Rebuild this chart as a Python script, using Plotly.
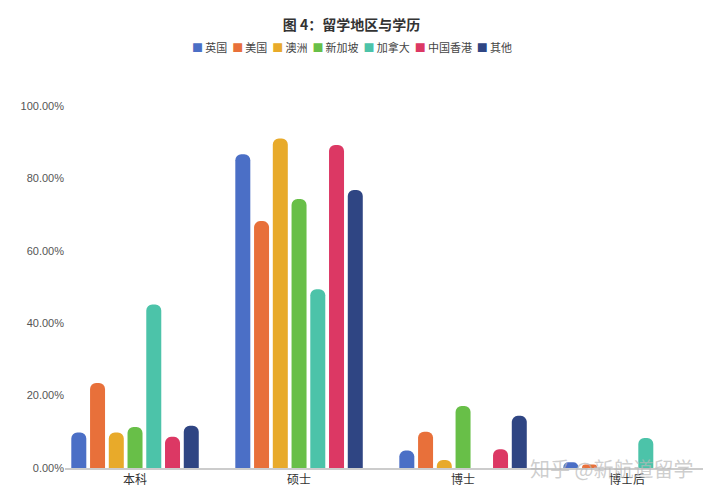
import plotly.graph_objects as go

categories = ["本科", "硕士", "博士", "博士后"]
regions = ["英国", "美国", "澳洲", "新加坡", "加拿大", "中国香港", "其他"]
colors = ["#4b6fc6", "#e8703a", "#e8aa2a", "#68bf48", "#4cc3a9", "#dc3864", "#2f4583"]

uk = [0.098, 0.867, 0.048, 0.016]
us = [0.235, 0.682, 0.100, 0.010]
au = [0.098, 0.910, 0.022, 0.0]
sg = [0.113, 0.743, 0.171, 0.0]
ca = [0.452, 0.494, 0.0, 0.083]
hk = [0.086, 0.892, 0.052, 0.0]
other = [0.117, 0.768, 0.144, 0.0]

series = [uk, us, au, sg, ca, hk, other]

font_family = "Liberation Sans, Noto Sans CJK SC, sans-serif"
cjk_family = "Noto Sans CJK SC, sans-serif"

fig = go.Figure()
for name, vals, col in zip(regions, series, colors):
    fig.add_trace(go.Bar(
        x=categories, y=vals, name=name,
        marker=dict(color=col, line=dict(width=0), cornerradius=6),
        hovertemplate="%{x} " + name + ": %{y:.2%}<extra></extra>",
    ))

legend_text = "&nbsp; ".join(
    f'<span style="color:{c}">■</span>&#8201;{n}' for n, c in zip(regions, colors)
)

fig.update_layout(
    width=703, height=501,
    margin=dict(l=65, r=0, t=106, b=33),
    paper_bgcolor="white", plot_bgcolor="white",
    font=dict(family=font_family, color="#333333", size=12),
    title=dict(text="<b>图 4：留学地区与学历</b>", x=0.5, xanchor="center",
               y=0.95, yanchor="middle",
               font=dict(size=14, color="#333333", family=cjk_family)),
    barmode="group", bargap=0.2, bargroupgap=0.2,
    showlegend=False,
)
fig.add_annotation(
    text=legend_text, xref="paper", yref="paper",
    x=(352 - 65) / 638, y=1 + (106 - 47) / 362, xanchor="center",
    yanchor="middle", showarrow=False,
    font=dict(size=11, color="#444444", family=cjk_family),
)
fig.update_xaxes(
    range=[-0.427, 3.463], showline=True, linecolor="#cccccc", linewidth=2,
    showgrid=False, ticks="", tickfont=dict(size=12, color="#333333", family=cjk_family),
    fixedrange=True,
)
fig.update_yaxes(
    range=[0, 1], tickformat=".2%", dtick=0.2, showgrid=False, zeroline=False,
    showline=False, tickfont=dict(size=11, color="#555555"), ticks="",
    fixedrange=True,
)
fig.add_annotation(
    text="知乎 @新航道留学", xref="paper", yref="paper", x=(695 - 65) / 638, y=0.0,
    xanchor="right", yanchor="middle", showarrow=False,
    font=dict(size=20, color="rgba(185,185,185,0.7)", family=cjk_family),
)

fig.write_html("out.html", config={"displayModeBar": False},
               post_script="document.body.style.margin='0';")
